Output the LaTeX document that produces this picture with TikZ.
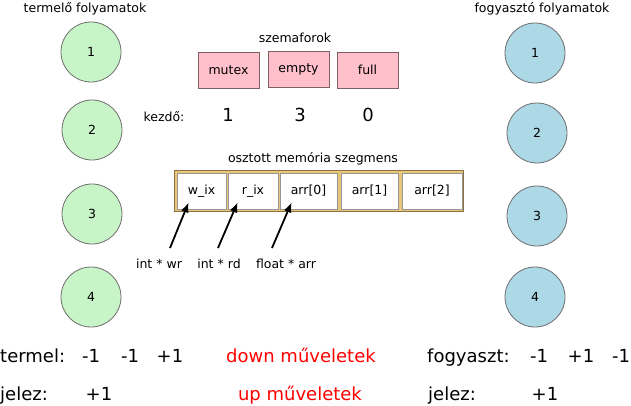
\documentclass[tikz,border=0pt]{standalone}
\usepackage{fontspec}
\setmainfont{DejaVu Sans}
\usetikzlibrary{arrows.meta,calc}

\definecolor{prodgreen}{RGB}{200,245,200}
\definecolor{conslblue}{RGB}{173,216,230}
\definecolor{procline}{RGB}{110,110,110}
\definecolor{sempink}{RGB}{255,192,203}
\definecolor{semline}{RGB}{125,95,100}
\definecolor{shmgold}{RGB}{232,200,120}
\definecolor{shmline}{RGB}{140,112,70}
\definecolor{cellline}{RGB}{150,150,150}

\begin{document}
\begin{tikzpicture}[x=1pt,y=-1pt,>={Latex[length=10pt,width=8pt]},
  lbl/.style={font=\fontsize{12.5}{15}\selectfont},
  bigtxt/.style={font=\fontsize{18}{22}\selectfont,inner sep=0pt},
  proc/.style={circle,draw=procline,line width=0.8pt,minimum size=60pt,lbl},
  sem/.style={draw=semline,fill=sempink,minimum width=61pt,minimum height=36pt,lbl},
  cell/.style={draw=cellline,fill=white,line width=0.8pt,minimum height=36pt,inner sep=0pt,lbl},
  ptr/.style={->,line width=1.8pt}]
\useasboundingbox (0,0) rectangle (631,406);

% {termelo folyamatok};
\node[lbl,anchor=base] (prodtitle) at (85,13) {termelő folyamatok};
\node[proc,fill=prodgreen] (p1) at (91,52) {1};
\node[proc,fill=prodgreen] (p2) at (92,130) {2};
\node[proc,fill=prodgreen] (p3) at (92,214) {3};
\node[proc,fill=prodgreen] (p4) at (91,297) {4};

% {fogyaszto folyamatok};
\node[lbl,anchor=base] (constitle) at (542,13) {fogyasztó folyamatok};
\node[proc,fill=conslblue] (c1) at (535,53) {1};
\node[proc,fill=conslblue] (c2) at (537,133) {2};
\node[proc,fill=conslblue] (c3) at (537,216) {3};
\node[proc,fill=conslblue] (c4) at (535,297) {4};

% {szemaforok};
\node[lbl,anchor=base] (semtitle) at (295,43) {szemaforok};
\node[sem] (mutex) at (228.5,70) {mutex};
\node[sem] (empty) at (298.5,69) {empty};
\node[sem] (full) at (367.5,70) {full};

\node[lbl,anchor=base] (kezdo) at (164,122) {kezdő:};
\node[bigtxt,anchor=base] (mutexinit) at (228,122) {1};
\node[bigtxt,anchor=base] (emptyinit) at (300,122) {3};
\node[bigtxt,anchor=base] (fullinit) at (368,122) {0};

% {osztott memoria};
\node[lbl,anchor=base] (shmtitle) at (313,163) {osztott memória szegmens};
\node[draw=shmline,fill=shmgold,line width=0.8pt,minimum width=289pt,minimum height=41pt] (shm) at (318.5,190.5) {};
\node[cell,minimum width=49pt] (wix) at (201.5,191) {w\_ix};
\node[cell,minimum width=50pt] (rix) at (253,191) {r\_ix};
\node[cell,minimum width=57pt] (arr0) at (308.5,191) {arr[0]};
\node[cell,minimum width=57pt] (arr1) at (369.5,191) {arr[1]};
\node[cell,minimum width=60pt] (arr2) at (432,191) {arr[2]};

\node[lbl,anchor=base] (wr) at (159,268) {int * wr};
\node[lbl,anchor=base] (rd) at (219,268) {int * rd};
\node[lbl,anchor=base] (arr) at (286,268) {float * arr};
\coordinate (wrtail) at (170,248);
\coordinate (rdtail) at (218,248);
\coordinate (arrtail) at (272,248);
\draw[ptr] (wrtail) -- ($(wix.south west)+(12,-7)$);
\draw[ptr] (rdtail) -- ($(rix.south west)+(10,-7)$);
\draw[ptr] (arrtail) -- ($(arr0.south west)+(12,-7)$);

% {muveletek};
\node[bigtxt,anchor=base west] (termel) at (0,362) {termel:};
\node[bigtxt,anchor=base] (t1) at (91,362) {-1};
\node[bigtxt,anchor=base] (t2) at (130,362) {-1};
\node[bigtxt,anchor=base] (t3) at (170,362) {+1};
\node[bigtxt,anchor=base,text=red] (down) at (301,362) {down műveletek};
\node[bigtxt,anchor=base west] (fogyaszt) at (427,362) {fogyaszt:};
\node[bigtxt,anchor=base] (f1) at (539,362) {-1};
\node[bigtxt,anchor=base] (f2) at (581,362) {+1};
\node[bigtxt,anchor=base] (f3) at (621,362) {-1};

\node[bigtxt,anchor=base west] (pjelez) at (0,400) {jelez:};
\node[bigtxt,anchor=base] (pj1) at (99,400) {+1};
\node[bigtxt,anchor=base,text=red] (up) at (300,400) {up műveletek};
\node[bigtxt,anchor=base west] (cjelez) at (428,400) {jelez:};
\node[bigtxt,anchor=base] (cj1) at (545,400) {+1};

\end{tikzpicture}
\end{document}
